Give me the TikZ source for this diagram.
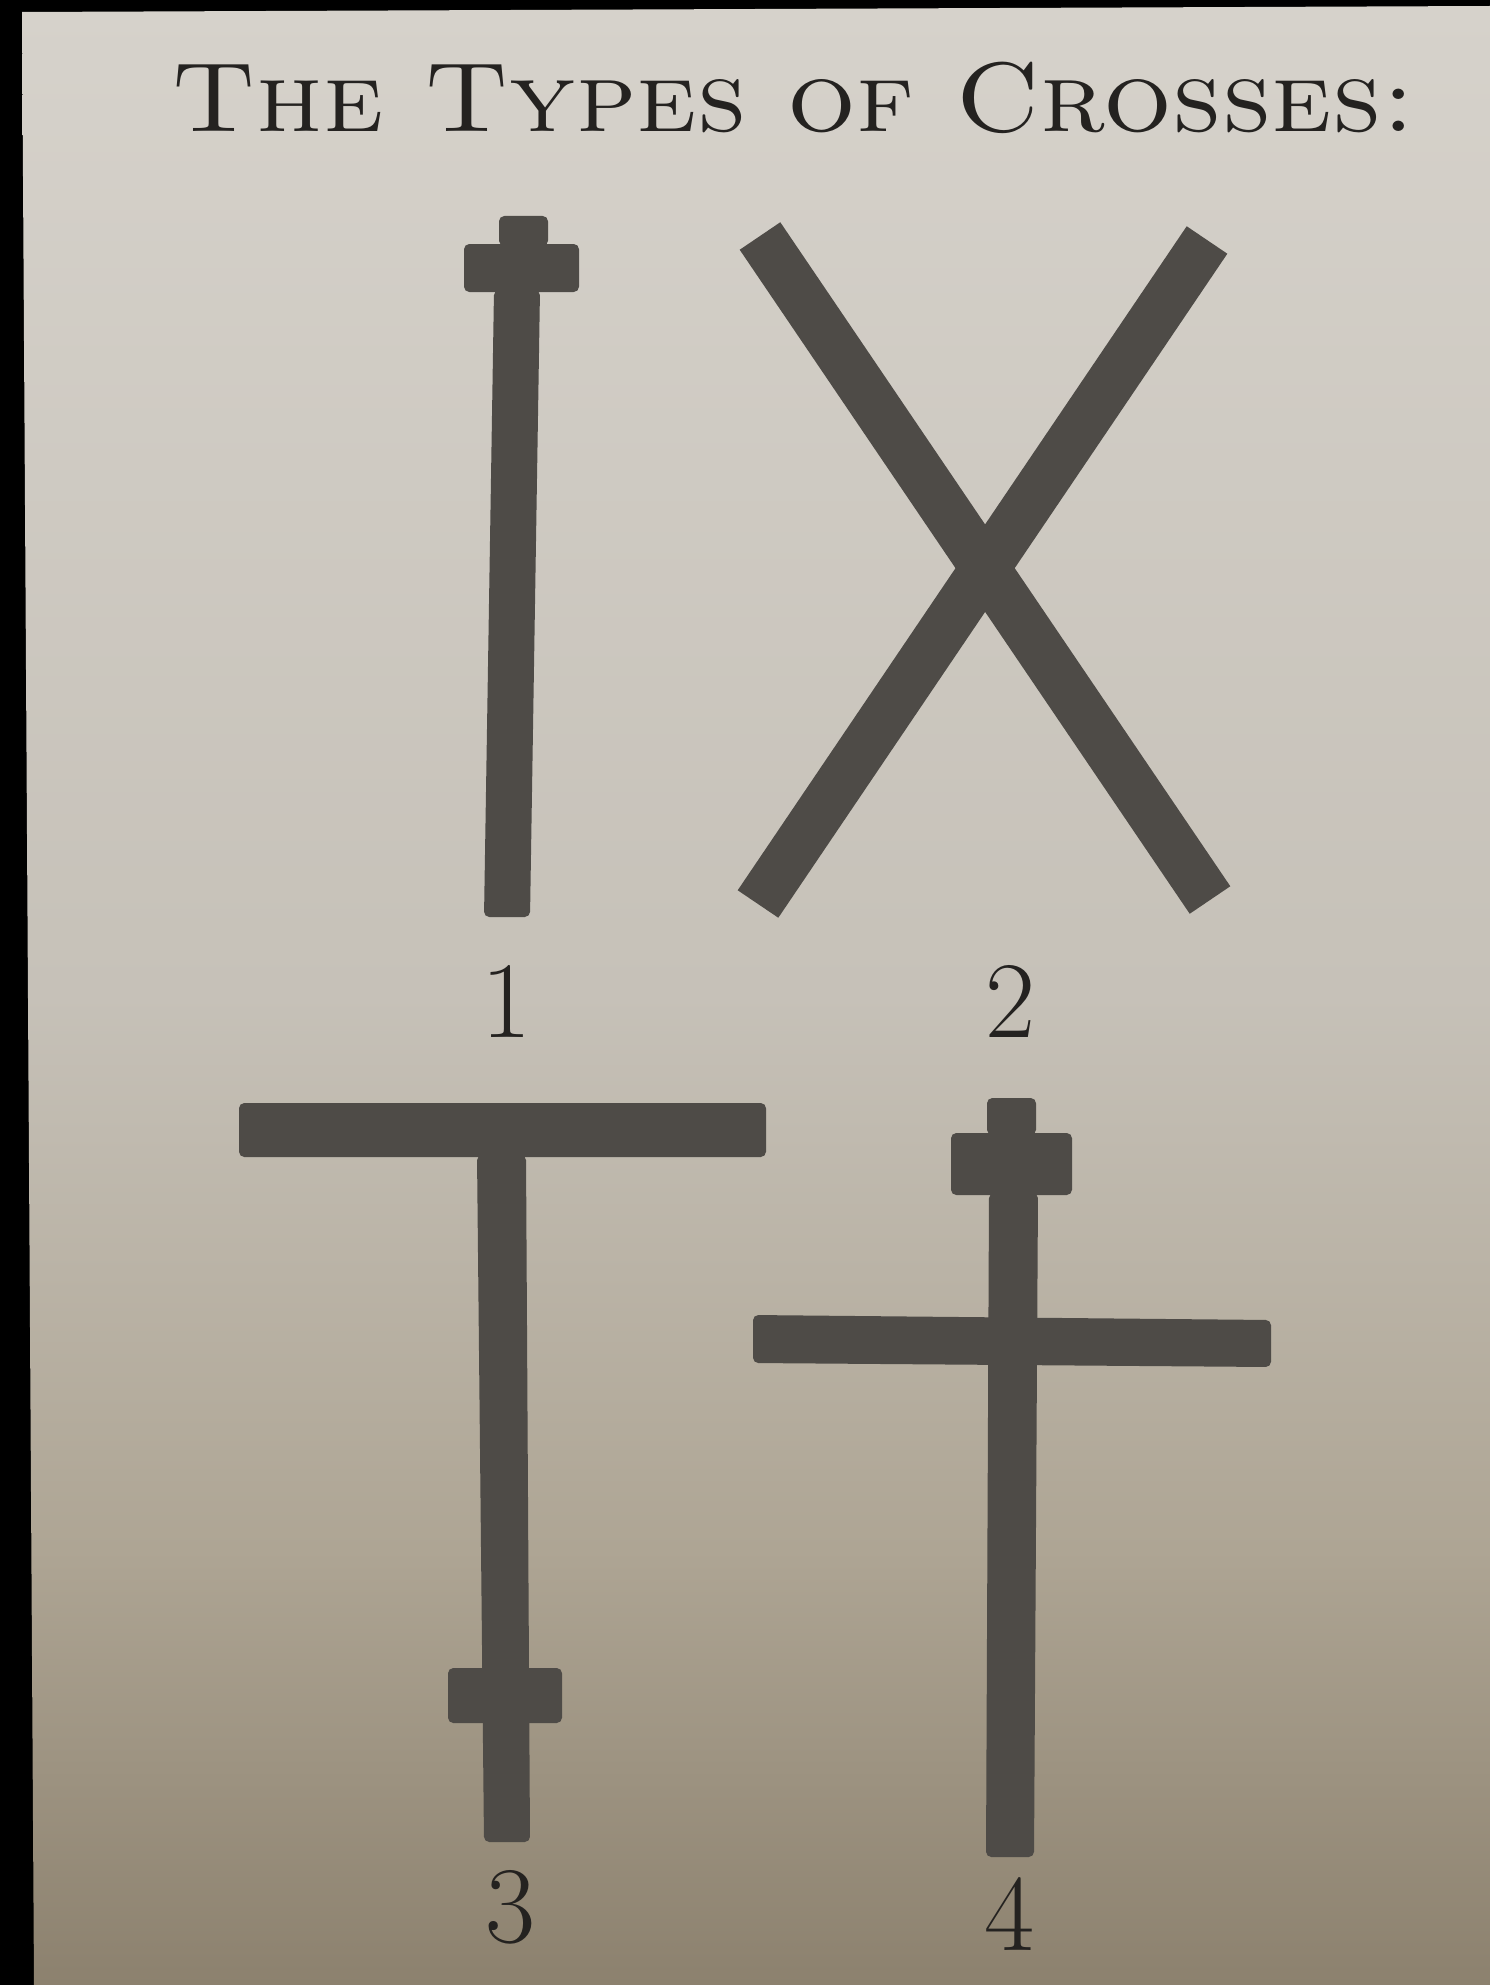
\documentclass[tikz,border=0pt]{standalone}
\usepackage{tikz}
\usetikzlibrary{calc}
\definecolor{paperTop}{RGB}{214,210,203}
\definecolor{paperMid}{RGB}{198,193,184}
\definecolor{paperLow}{RGB}{174,165,148}
\definecolor{paperBot}{RGB}{140,129,110}
\definecolor{crossGray}{RGB}{78,75,71}
\definecolor{inkDark}{RGB}{36,34,32}
\pgfdeclareverticalshading{paper}{100bp}{color(0bp)=(paperBot); color(25bp)=(paperBot); color(36bp)=(paperLow); color(50bp)=(paperMid); color(75bp)=(paperTop); color(100bp)=(paperTop)}

\tikzset{
  bar/.style={fill=crossGray, rounded corners=1.5pt},
  xbar/.style={draw=crossGray, line width=0.49cm},
  numlabel/.style={text=inkDark, font=\fontsize{31}{31}\selectfont, anchor=base},
}

\begin{document}
\begin{tikzpicture}[x=0.01cm, y=-0.01cm]
\fill[black] (0,0) rectangle (1490,1985);
\shade[shading=paper] (22,12) -- (1490,6) -- (1490,1985) -- (34,1985) -- cycle;
\node[text=inkDark, anchor=base, xscale=1.1, font=\fontsize{28}{28}\selectfont] (title) at (794,132) {\textsc{The Types of Crosses:}};

% cross 1
\fill[bar] (499,216) rectangle (548,246);
\fill[bar] (464,244) rectangle (579,292);
\fill[bar] (494,290) -- (540,290) -- (530,917) -- (484,917) -- cycle;

% cross 2
\draw[xbar] (760,236) -- (1210,900);
\draw[xbar] (1207,240) -- (758,904);

% cross 3
\fill[bar] (239,1103) rectangle (766,1157);
\fill[bar] (477,1155) -- (526,1155) -- (530,1842) -- (484,1842) -- cycle;
\fill[bar] (448,1668) rectangle (562,1723);

% cross 4
\fill[bar] (987,1098) rectangle (1036,1135);
\fill[bar] (951,1133) rectangle (1072,1195);
\fill[bar] (989,1193) -- (1038,1193) -- (1034,1857) -- (986,1857) -- cycle;
\fill[bar] (753,1315) -- (1271,1320) -- (1271,1367) -- (753,1363) -- cycle;

\node[numlabel] (lab1) at (507,1037) {1};
\node[numlabel] (lab2) at (1011,1037) {2};
\node[numlabel] (lab3) at (511,1942) {3};
\node[numlabel] (lab4) at (1010,1950) {4};
\end{tikzpicture}
\end{document}
